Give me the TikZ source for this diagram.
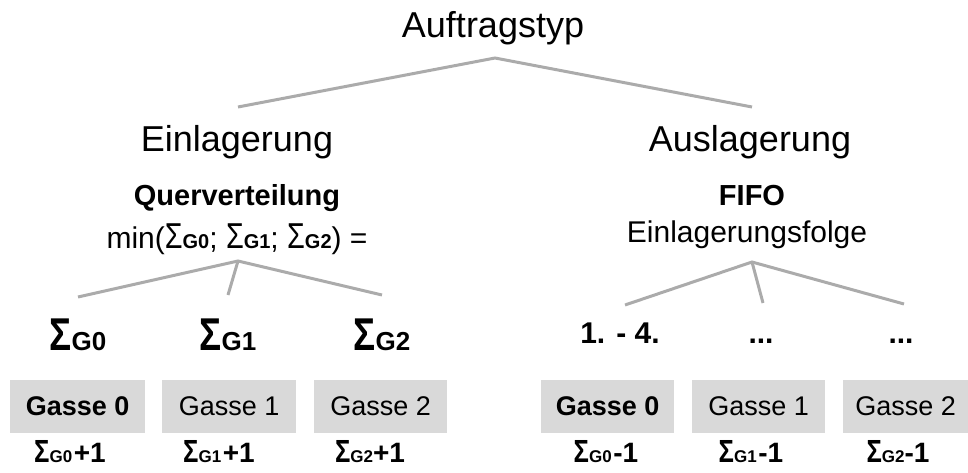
\documentclass[tikz,border=0pt]{standalone}
\usepackage{fontspec}
\setmainfont{Liberation Sans}
\definecolor{linegray}{HTML}{ABABAB}
\definecolor{boxgray}{HTML}{D9D9D9}
\newcommand{\fs}[1]{\fontsize{#1}{#1}\selectfont}
% \sigsub{sigma size}{xscale}{sub size}{sub text}
\newcommand{\sigsub}[4]{{\fs{#1}\scalebox{#2}[1]{Σ}}{\fs{#3}\bfseries #4}}
\tikzset{
  edge/.style={draw=linegray, line width=3pt},
  lbl/.style={anchor=base, inner sep=0pt},
  gbox/.style={fill=boxgray, minimum height=53pt, inner sep=0pt, anchor=north west, font=\fs{27}}
}
\begin{document}
\begin{tikzpicture}[x=1pt,y=-1pt]
\useasboundingbox (0,0) rectangle (968,473);
% level 0 and 1
\node[lbl, font=\fs{36}] (top) at (493,38) {Auftragstyp};
\node[lbl, font=\fs{36}] (ein) at (237,152) {Einlagerung};
\node[lbl, font=\fs{36}] (aus) at (750,152) {Auslagerung};
\coordinate (topA) at (495,58);
\coordinate (einT) at (238,107);
\coordinate (ausT) at (752,107);
\draw[edge] (einT) -- (topA) -- (ausT);
% level 2 texts
\node[lbl, font=\fs{29}\bfseries] (quer) at (237,205) {Querverteilung};
\node[lbl, font=\fs{30}] (min) at (237,248) {min(\sigsub{36}{0.8}{20}{G0}; \sigsub{36}{0.8}{20}{G1}; \sigsub{36}{0.8}{20}{G2}) =};
\node[lbl, font=\fs{29}\bfseries] (fifo) at (752,205) {FIFO};
\node[lbl, font=\fs{30}] (folge) at (747,242) {Einlagerungsfolge};
% left subtree
\coordinate (lA) at (238,261);
\coordinate (l0) at (78,297);
\coordinate (l1) at (228,295);
\coordinate (l2) at (382,295);
\draw[edge] (l0) -- (lA) -- (l2);
\draw[edge] (lA) -- (l1);
\node[lbl] (s0) at (78,350) {\bfseries\sigsub{46}{0.8}{26}{G0}};
\node[lbl] (s1) at (228,350) {\bfseries\sigsub{46}{0.8}{26}{G1}};
\node[lbl] (s2) at (382,350) {\bfseries\sigsub{46}{0.8}{26}{G2}};
% right subtree
\coordinate (rA) at (752,262);
\coordinate (r0) at (625,305);
\coordinate (r1) at (763,303);
\coordinate (r2) at (904,304);
\draw[edge] (r0) -- (rA) -- (r2);
\draw[edge] (rA) -- (r1);
\node[lbl, font=\fs{30}\bfseries] (o0) at (620,343) {1. - 4.};
\node[lbl, font=\fs{30}\bfseries] (o1) at (761,343) {...};
\node[lbl, font=\fs{30}\bfseries] (o2) at (901,343) {...};
% boxes
\node[gbox, minimum width=135pt, font=\fs{27}\bfseries] (g0) at (10,380) {Gasse 0};
\node[gbox, minimum width=134pt] (g1) at (162,380) {Gasse 1};
\node[gbox, minimum width=133pt] (g2) at (314,380) {Gasse 2};
\node[gbox, minimum width=133pt, font=\fs{27}\bfseries] (h0) at (541,380) {Gasse 0};
\node[gbox, minimum width=133pt] (h1) at (692,380) {Gasse 1};
\node[gbox, minimum width=125pt] (h2) at (843,380) {Gasse 2};
% bottom labels
\node[lbl] (b0) at (70,462) {\bfseries\sigsub{32}{0.8}{17}{G0}\,{\fs{28}+1}};
\node[lbl] (b1) at (219,462) {\bfseries\sigsub{32}{0.8}{17}{G1}\,{\fs{28}+1}};
\node[lbl] (b2) at (370,462) {\bfseries\sigsub{32}{0.8}{17}{G2}{\fs{28}+1}};
\node[lbl] (c0) at (606,462) {\bfseries\sigsub{32}{0.8}{17}{G0}\,{\fs{28}-1}};
\node[lbl] (c1) at (751,462) {\bfseries\sigsub{32}{0.8}{17}{G1}\,{\fs{28}-1}};
\node[lbl] (c2) at (898,462) {\bfseries\sigsub{32}{0.8}{17}{G2}{\fs{28}-1}};
\end{tikzpicture}
\end{document}
